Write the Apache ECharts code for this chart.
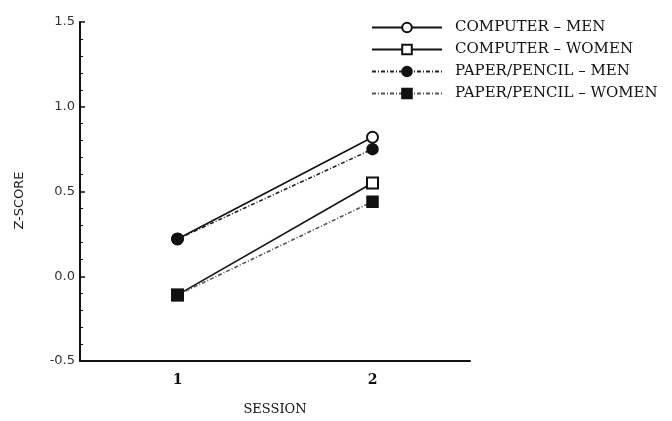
<!DOCTYPE html>
<html>
<head>
<meta charset="utf-8">
<script src="https://cdn.jsdelivr.net/npm/echarts@6/dist/echarts.min.js"></script>
<style>
  html, body { margin: 0; padding: 0; background: #fff; }
  #chart { width: 672px; height: 421px; }
</style>
</head>
<body>
<div id="chart"></div>
<script>
// 数据
var sessions = ['1', '2'];
var seriesNames = ['COMPUTER – MEN', 'COMPUTER – WOMEN', 'PAPER/PENCIL – MEN', 'PAPER/PENCIL – WOMEN'];
var computerMen = [0.22, 0.82];
var computerWomen = [-0.11, 0.55];
var paperMen = [0.22, 0.75];
var paperWomen = [-0.11, 0.44];

var chart = echarts.init(document.getElementById('chart'));
var serifFont = 'DejaVu Serif';

function makeSeries (name, data, symbol, lineType, lineColor) {
  return {
    name: name,
    type: 'line',
    data: data,
    symbol: symbol,
    symbolSize: 11,
    showAllSymbol: true,
    itemStyle: {
      color: '#111',
      borderColor: '#111',
      borderWidth: 1.5
    },
    lineStyle: {
      color: lineColor,
      width: 1.6,
      type: lineType
    },
    emphasis: { disabled: true }
  };
}

var option = {
  backgroundColor: '#fff',
  animation: false,
  grid: {
    left: 80,
    top: 22,
    width: 390,
    height: 346
  },
  legend: {
    orient: 'vertical',
    left: 366,
    top: 15,
    itemWidth: 70,
    itemHeight: 12,
    itemGap: 7,
    textStyle: {
      fontFamily: serifFont,
      fontSize: 15,
      color: '#111',
      padding: [0, 0, 0, 8]
    },
    data: seriesNames
  },
  xAxis: {
    type: 'category',
    data: sessions,
    boundaryGap: true,
    name: 'SESSION',
    nameLocation: 'middle',
    nameGap: 42,
    nameTextStyle: { fontFamily: serifFont, fontSize: 13, color: '#111' },
    axisLine: { onZero: false, lineStyle: { color: '#111', width: 2 } },
    axisTick: { alignWithLabel: true, inside: true, length: 4, lineStyle: { color: '#111', width: 1.5 } },
    axisLabel: { fontFamily: serifFont, fontSize: 14, fontWeight: 'bold', color: '#111', margin: 12 },
    splitLine: { show: false }
  },
  yAxis: {
    type: 'value',
    min: -0.5,
    max: 1.5,
    interval: 0.5,
    name: 'Z-SCORE',
    nameLocation: 'middle',
    nameGap: 54,
    nameRotate: 90,
    nameTextStyle: { fontFamily: 'DejaVu Sans', fontSize: 13, color: '#222', padding: [0, 18, 0, 0] },
    axisLine: { show: true, onZero: false, lineStyle: { color: '#111', width: 2 } },
    axisTick: { show: true, inside: true, length: 5, lineStyle: { color: '#111', width: 1.5 } },
    minorTick: { show: true, splitNumber: 5, length: 3, lineStyle: { color: '#111', width: 1 } },
    axisLabel: {
      fontFamily: 'DejaVu Sans',
      fontSize: 13,
      color: '#333',
      margin: 5,
      formatter: function (v) { return v.toFixed(1); }
    },
    splitLine: { show: false }
  },
  series: [
    makeSeries(seriesNames[0], computerMen, 'emptyCircle', 'solid', '#111'),
    makeSeries(seriesNames[1], computerWomen, 'emptyRect', 'solid', '#111'),
    makeSeries(seriesNames[2], paperMen, 'circle', [4, 2, 1, 2], '#222'),
    makeSeries(seriesNames[3], paperWomen, 'rect', [4, 2, 1, 2], '#555')
  ]
};
chart.setOption(option, true);
</script>
</body>
</html>
